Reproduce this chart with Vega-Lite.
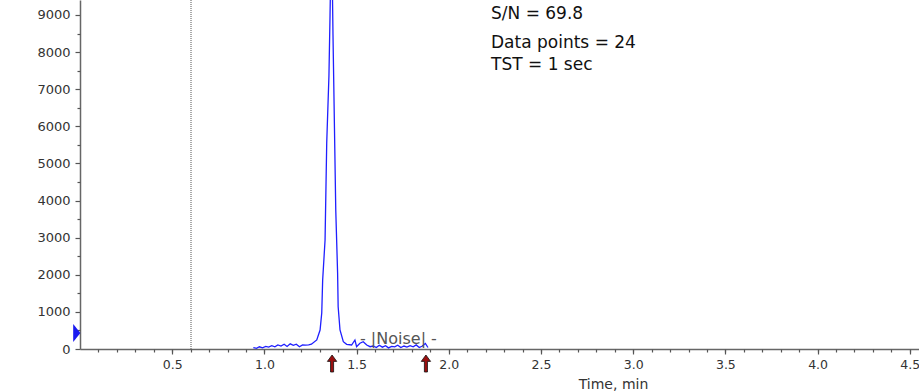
{
  "$schema": "https://vega.github.io/schema/vega-lite/v6.json",
  "width": 839,
  "height": 349,
  "autosize": {"type": "none"},
  "padding": {"left": 80, "top": 0, "right": 0, "bottom": 43},
  "background": "white",
  "config": {
    "view": {"stroke": null},
    "font": "DejaVu Sans",
    "axis": {
      "grid": false,
      "labelFont": "DejaVu Sans",
      "labelFontSize": 13,
      "labelColor": "#333333",
      "domainColor": "#666666",
      "domainWidth": 1.5,
      "tickColor": "#555555",
      "tickWidth": 1.2,
      "titleFont": "DejaVu Sans",
      "titleFontWeight": "normal",
      "titleColor": "#333333"
    }
  },
  "resolve": {"axis": {"x": "independent", "y": "independent"}},
  "layer": [
    {
      "data": {"values": [
        {"t": 0.940, "I": 40}, {"t": 0.957, "I": 20}, {"t": 0.973, "I": 60}, {"t": 0.990, "I": 30},
        {"t": 1.007, "I": 70}, {"t": 1.023, "I": 50}, {"t": 1.040, "I": 90}, {"t": 1.057, "I": 60},
        {"t": 1.073, "I": 110}, {"t": 1.090, "I": 80}, {"t": 1.107, "I": 130}, {"t": 1.123, "I": 70},
        {"t": 1.140, "I": 140}, {"t": 1.157, "I": 100}, {"t": 1.173, "I": 130}, {"t": 1.190, "I": 60},
        {"t": 1.207, "I": 110}, {"t": 1.223, "I": 105}, {"t": 1.240, "I": 110}, {"t": 1.255, "I": 130},
        {"t": 1.284, "I": 243}, {"t": 1.302, "I": 512}, {"t": 1.311, "I": 970}, {"t": 1.316, "I": 1860},
        {"t": 1.329, "I": 2937}, {"t": 1.338, "I": 5552}, {"t": 1.350, "I": 7357}, {"t": 1.356, "I": 9000},
        {"t": 1.364, "I": 11500}, {"t": 1.372, "I": 8460}, {"t": 1.387, "I": 3746}, {"t": 1.397, "I": 2048},
        {"t": 1.400, "I": 1140}, {"t": 1.410, "I": 512}, {"t": 1.428, "I": 197}, {"t": 1.446, "I": 127},
        {"t": 1.473, "I": 108}, {"t": 1.491, "I": 243}, {"t": 1.500, "I": 62}, {"t": 1.518, "I": 154},
        {"t": 1.536, "I": 197}, {"t": 1.555, "I": 108}, {"t": 1.573, "I": 62},
        {"t": 1.590, "I": 80}, {"t": 1.607, "I": 40}, {"t": 1.623, "I": 100}, {"t": 1.640, "I": 50},
        {"t": 1.657, "I": 90}, {"t": 1.673, "I": 30}, {"t": 1.690, "I": 70}, {"t": 1.707, "I": 60},
        {"t": 1.723, "I": 100}, {"t": 1.740, "I": 40}, {"t": 1.757, "I": 80}, {"t": 1.773, "I": 50},
        {"t": 1.790, "I": 90}, {"t": 1.807, "I": 60}, {"t": 1.823, "I": 110}, {"t": 1.840, "I": 40},
        {"t": 1.857, "I": 80}, {"t": 1.873, "I": 150}, {"t": 1.887, "I": 40}
      ]},
      "mark": {"type": "line", "clip": true, "color": "#1f1fff", "strokeWidth": 1.3},
      "encoding": {
        "x": {
          "field": "t", "type": "quantitative",
          "scale": {"domain": [0, 4.55], "nice": false, "zero": false},
          "axis": {
            "orient": "bottom",
            "values": [0.5, 1, 1.5, 2, 2.5, 3, 3.5, 4, 4.5],
            "format": ".1f",
            "labelFontSize": 12.5,
            "tickSize": 5,
            "labelPadding": 4,
            "labelFlush": false,
            "labelOverlap": false,
            "title": "Time, min",
            "titleFontSize": 14,
            "titleX": 533,
            "titleY": 39,
            "titleAlign": "center",
            "titleBaseline": "alphabetic"
          }
        },
        "y": {
          "field": "I", "type": "quantitative",
          "scale": {"domain": [0, 9404], "nice": false, "zero": false},
          "axis": {
            "orient": "left",
            "values": [0, 1000, 2000, 3000, 4000, 5000, 6000, 7000, 8000, 9000],
            "format": "d",
            "tickSize": 5,
            "labelPadding": 5,
            "title": null
          }
        }
      }
    },
    {
      "data": {"values": [{"t": 0.602}]},
      "mark": {"type": "rule", "color": "#555555", "strokeWidth": 1, "strokeDash": [1, 1]},
      "encoding": {
        "x": {
          "field": "t", "type": "quantitative",
          "axis": {
            "orient": "bottom",
            "values": [0.1, 0.2, 0.3, 0.4, 0.5, 0.6, 0.7, 0.8, 0.9, 1.0, 1.1, 1.2, 1.3, 1.4, 1.5, 1.6, 1.7, 1.8, 1.9, 2.0, 2.1, 2.2, 2.3, 2.4, 2.5, 2.6, 2.7, 2.8, 2.9, 3.0, 3.1, 3.2, 3.3, 3.4, 3.5, 3.6, 3.7, 3.8, 3.9, 4.0, 4.1, 4.2, 4.3, 4.4, 4.5],
            "tickSize": 3,
            "labels": false,
            "domain": false,
            "title": null
          }
        }
      }
    },
    {
      "data": {"values": [{"t": 0, "I": 430}]},
      "mark": {
        "type": "point", "filled": true, "opacity": 1,
        "shape": "M-0.4,-1L0.4,0L-0.4,1Z",
        "size": 324, "color": "#1a1af0", "xOffset": -3.2
      },
      "encoding": {
        "x": {"field": "t", "type": "quantitative", "axis": null},
        "y": {
          "field": "I", "type": "quantitative",
          "axis": {
            "orient": "left",
            "values": [500, 1500, 2500, 3500, 4500, 5500, 6500, 7500, 8500],
            "tickSize": 3,
            "labels": false,
            "domain": false,
            "title": null
          }
        }
      }
    },
    {
      "data": {"values": [{"t": 1.367}, {"t": 1.876}]},
      "mark": {
        "type": "point", "filled": true, "opacity": 1,
        "shape": "M0,-1L0.55,-0.25L0.18,-0.25L0.18,1L-0.18,1L-0.18,-0.25L-0.55,-0.25Z",
        "size": 289, "fill": "#9a0f0f", "stroke": "#111111", "strokeWidth": 0.8,
        "yOffset": 14.5
      },
      "encoding": {
        "x": {"field": "t", "type": "quantitative", "axis": null},
        "y": {"datum": 0, "type": "quantitative", "axis": null}
      }
    },
    {
      "data": {"values": [{"label": "- |Noise| -", "t": 1.727, "I": 135}]},
      "mark": {"type": "text", "align": "center", "baseline": "alphabetic", "fontSize": 16, "color": "#555555", "font": "DejaVu Sans"},
      "encoding": {
        "x": {"field": "t", "type": "quantitative", "axis": null},
        "y": {"field": "I", "type": "quantitative", "axis": null},
        "text": {"field": "label"}
      }
    },
    {
      "data": {"values": [
        {"label": "S/N = 69.8", "t": 2.229, "I": 8893},
        {"label": "Data points = 24", "t": 2.229, "I": 8111},
        {"label": "TST = 1 sec", "t": 2.229, "I": 7518}
      ]},
      "mark": {"type": "text", "align": "left", "baseline": "alphabetic", "fontSize": 17, "color": "#111111", "font": "DejaVu Sans"},
      "encoding": {
        "x": {"field": "t", "type": "quantitative", "axis": null},
        "y": {"field": "I", "type": "quantitative", "axis": null},
        "text": {"field": "label"}
      }
    }
  ]
}
